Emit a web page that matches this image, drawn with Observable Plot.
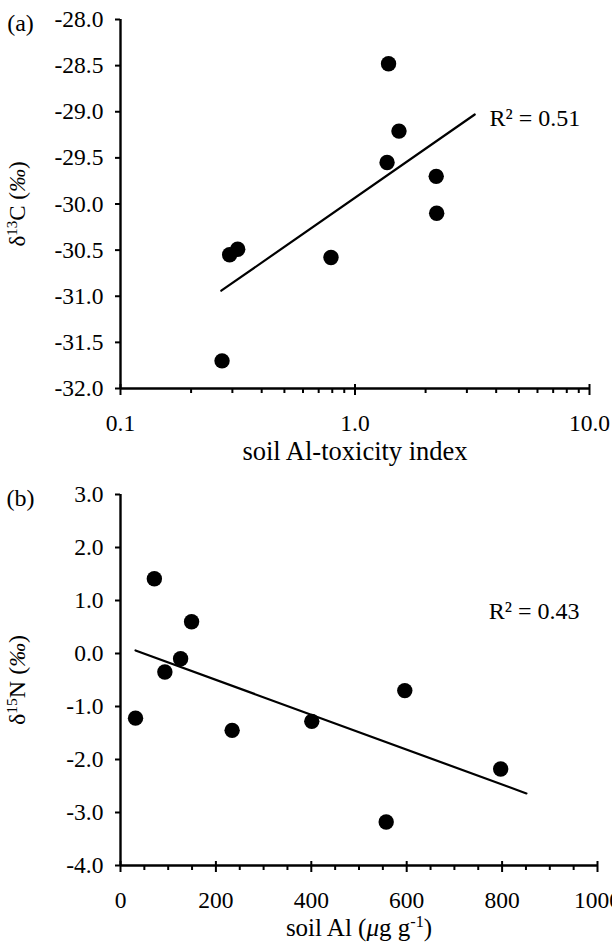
<!DOCTYPE html>
<html>
<head>
<meta charset="utf-8">
<script src="https://cdn.jsdelivr.net/npm/d3@7"></script>
<script src="https://cdn.jsdelivr.net/npm/@observablehq/plot@0.6"></script>
<style>
  html, body { margin: 0; padding: 0; background: white; }
  svg { display: block; overflow: visible; font-family: "Liberation Serif", "Times New Roman", serif; }
</style>
</head>
<body>
<div id="chart"></div>
<script>
// Panel (a): soil Al-toxicity index vs δ13C
const alIndex = [1.39, 1.54, 1.37, 2.22, 2.23, 0.316, 0.292, 0.79, 0.271];
const d13C    = [-28.48, -29.21, -29.55, -29.70, -30.10, -30.49, -30.55, -30.58, -31.70];
const fitAX = [0.269, 3.24];
const fitAY = [-30.94, -29.03];
const xTicksA = [0.1, 1, 10];
const xMinorA = [0.2,0.3,0.4,0.5,0.6,0.7,0.8,0.9,2,3,4,5,6,7,8,9];
const yTicksA = [-32, -31.5, -31, -30.5, -30, -29.5, -29, -28.5, -28];

// Panel (b): soil Al vs δ15N
const soilAl = [71, 149, 126, 93, 31.5, 234, 401, 797, 557, 596];
const d15N   = [1.41, 0.60, -0.10, -0.35, -1.22, -1.45, -1.28, -2.18, -3.18, -0.70];
const fitBX = [31.5, 851];
const fitBY = [0.057, -2.64];
const xTicksB = [0, 200, 400, 600, 800, 1000];
const xMinorB = [50,100,150,250,300,350,450,500,550,650,700,750,850,900,950];
const yTicksB = [-4, -3, -2, -1, 0, 1, 2, 3];

const FONT = '"Liberation Serif", "Times New Roman", serif';

function panel({width, height, mt, mb, ml, mr, xScale, yScale, xs, ys, fx, fy,
                xTicks, xMinor, yTicks, xFmt, r2, r2x, r2y, tag, xLabelCls, yLabelCls,
                xLabDy, xLabSize, yLabSize}) {
  const innerH = height - mt - mb;
  const innerW = width - ml - mr;
  const pts = xs.map((x, i) => ({x, y: ys[i]}));
  const fit = fx.map((x, i) => ({x, y: fy[i]}));
  return Plot.plot({
    width, height,
    marginTop: mt, marginBottom: mb, marginLeft: ml, marginRight: mr,
    x: {...xScale, axis: null},
    y: {...yScale, axis: null},
    style: {fontFamily: FONT, fontSize: "22px", color: "black", background: "white", overflow: "visible"},
    marks: [
      // axis lines
      Plot.ruleY([yScale.domain[0]], {stroke: "black", strokeWidth: 2.4}),
      Plot.ruleX([xScale.domain[0]], {stroke: "black", strokeWidth: 2.4}),
      // y ticks (outward, left)
      Plot.tickY(yTicks, {y: d => d, insetRight: innerW - 5, dx: -5, stroke: "black", strokeWidth: 2}),
      // y tick labels
      Plot.text(yTicks, {y: d => d, frameAnchor: "left", dx: -17, textAnchor: "end", lineAnchor: "middle",
                         text: d => d.toFixed(1), fontSize: 23.5, fontFamily: FONT, fill: "black"}),
      // x major ticks (crossing axis)
      Plot.tickX(xTicks, {x: d => d, insetTop: innerH - 11, dy: 7, stroke: "black", strokeWidth: 2}),
      // x minor ticks (outside)
      Plot.tickX(xMinor, {x: d => d, insetTop: innerH - 5, dy: 5, stroke: "black", strokeWidth: 2}),
      // x tick labels
      Plot.text(xTicks, {x: d => d, frameAnchor: "bottom", dy: 35, lineAnchor: "middle", textAnchor: "middle",
                         text: xFmt, fontSize: 23.5, fontFamily: FONT, fill: "black"}),
      // regression line
      Plot.line(fit, {x: "x", y: "y", stroke: "black", strokeWidth: 2.2}),
      // data points
      Plot.dot(pts, {x: "x", y: "y", r: 7.7, fill: "black", stroke: "none"}),
      // R² annotation
      Plot.text([r2], {x: r2x, y: r2y, text: d => d, textAnchor: "start", fontSize: 24,
                       fontFamily: FONT, fill: "black"}),
      // panel tag
      Plot.text([tag], {frameAnchor: "top-left", dx: -100, dy: 4, text: d => d, fontSize: 24,
                        fontFamily: FONT, textAnchor: "middle", lineAnchor: "middle", fill: "black"}),
      // axis titles (content refined below)
      Plot.text(["x"], {frameAnchor: "bottom", dy: xLabDy, text: d => d, fontSize: xLabSize, fontFamily: FONT,
                        fill: "black", textAnchor: "middle", lineAnchor: "middle", className: xLabelCls}),
      Plot.text(["y"], {frameAnchor: "left", dx: -103, rotate: -90, text: d => d, fontSize: yLabSize,
                        fontFamily: FONT, fill: "black", textAnchor: "middle", lineAnchor: "middle",
                        className: yLabelCls})
    ]
  });
}

const figA = panel({
  width: 612, height: 470, mt: 19, mb: 82, ml: 120, mr: 23,
  xScale: {type: "log", domain: [0.1, 10]},
  yScale: {domain: [-32, -28]},
  xs: alIndex, ys: d13C, fx: fitAX, fy: fitAY,
  xTicks: xTicksA, xMinor: xMinorA, yTicks: yTicksA,
  xFmt: d => d.toFixed(1),
  r2: "R² = 0.51", r2x: 3.75, r2y: -29.07, tag: "(a)",
  xLabelCls: "xlabA", yLabelCls: "ylabA", xLabDy: 63, xLabSize: 26.5, yLabSize: 23
});

const figB = panel({
  width: 612, height: 473, mt: 24, mb: 78, ml: 120, mr: 15,
  xScale: {type: "linear", domain: [0, 1000]},
  yScale: {domain: [-4, 3]},
  xs: soilAl, ys: d15N, fx: fitBX, fy: fitBY,
  xTicks: xTicksB, xMinor: xMinorB, yTicks: yTicksB,
  xFmt: d => String(d),
  r2: "R² = 0.43", r2x: 772, r2y: 0.80, tag: "(b)",
  xLabelCls: "xlabB", yLabelCls: "ylabB", xLabDy: 62, xLabSize: 25, yLabSize: 24
});

const root = document.getElementById("chart");
root.appendChild(figA);
root.appendChild(figB);

function setRich(svg, cls, html) {
  const t = svg.querySelector("." + cls + " text");
  if (t) t.innerHTML = html;
}
setRich(figA, "xlabA", "soil Al-toxicity index");
setRich(figA, "ylabA", 'δ<tspan baseline-shift="super" font-size="65%">13</tspan>C (<tspan font-style="italic">‰</tspan>)');
setRich(figB, "xlabB", 'soil Al (<tspan font-style="italic">μ</tspan>g g<tspan baseline-shift="super" font-size="65%">-1</tspan>)');
setRich(figB, "ylabB", 'δ<tspan baseline-shift="super" font-size="65%">15</tspan>N (<tspan font-style="italic">‰</tspan>)');
</script>
</body>
</html>
